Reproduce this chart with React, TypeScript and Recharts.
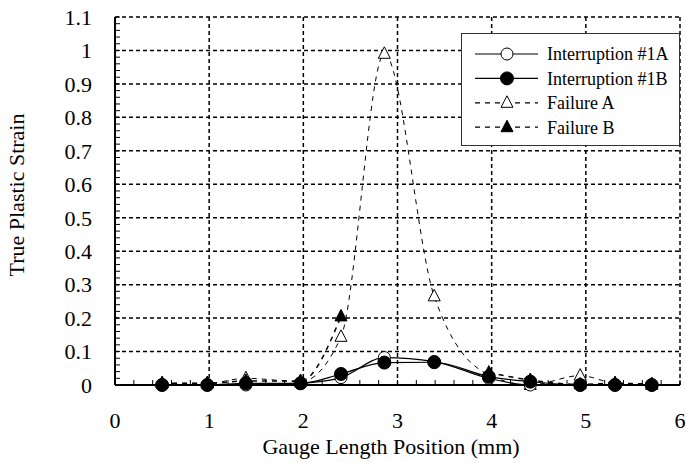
import { ComposedChart, Line, XAxis, YAxis, CartesianGrid, Legend } from "recharts";

const positions = [0.5, 0.98, 1.39, 1.97, 2.4, 2.86, 3.39, 3.97, 4.41, 4.94, 5.31, 5.7];
const interruption1A = [0, 0, 0, 0.005, 0.022, 0.082, 0.07, 0.02, 0, 0, 0, 0];
const interruption1B = [0, 0, 0.005, 0.005, 0.033, 0.067, 0.068, 0.025, 0.01, 0, 0, 0];
const failureA = [0.005, 0.005, 0.02, 0.01, 0.144, 0.99, 0.265, 0.03, 0, 0.028, 0.005, 0];
const failureB = [0.005, 0.005, 0.012, 0.012, 0.205, null, null, 0.037, 0.015, 0.002, 0.005, 0.003];

const xMajor = [0, 1, 2, 3, 4, 5, 6];
const xTickLabels = ["0", "1", "2", "3", "4", "5", "6"];
const yMajor = [0, 0.1, 0.2, 0.3, 0.4, 0.5, 0.6, 0.7, 0.8, 0.9, 1, 1.1];
const yTickLabels = ["0", "0.1", "0.2", "0.3", "0.4", "0.5", "0.6", "0.7", "0.8", "0.9", "1", "1.1"];

// minor tick marks, 0.2 on x and 0.02 on y
const xMinor = Array.from({ length: 31 }, (_, i) => Math.round(i * 2) / 10);
const yMinor = Array.from({ length: 56 }, (_, i) => Math.round(i * 2) / 100);

const rows = positions.map((x, i) => ({
  x,
  i1a: interruption1A[i],
  i1b: interruption1B[i],
  fa: failureA[i],
  fb: failureB[i],
}));

type Series = {
  key: string;
  name: string;
  marker: "circle" | "triangle";
  filled: boolean;
  dash?: string;
  width: number;
};

const series: Series[] = [
  { key: "fa", name: "Failure A", marker: "triangle", filled: false, dash: "5 5", width: 1 },
  { key: "fb", name: "Failure B", marker: "triangle", filled: true, dash: "5 5", width: 1.5 },
  { key: "i1a", name: "Interruption #1A", marker: "circle", filled: false, width: 1.2 },
  { key: "i1b", name: "Interruption #1B", marker: "circle", filled: true, width: 1.2 },
];

const legendOrder = ["i1a", "i1b", "fa", "fb"];

const FONT = "'Liberation Serif', 'Times New Roman', serif";
const serif = { fontFamily: FONT };

const Marker = ({ cx, cy, s }: { cx: number; cy: number; s: Series }) => {
  const fill = s.filled ? "#000" : "#fff";
  if (s.marker === "circle") {
    return <circle cx={cx} cy={cy} r={s.filled ? 6.5 : 6} fill={fill} stroke="#000" strokeWidth={1} />;
  }
  return (
    <polygon
      points={`${cx},${cy - 7} ${cx - 6},${cy + 4.5} ${cx + 6},${cy + 4.5}`}
      fill={fill}
      stroke="#000"
      strokeWidth={1}
    />
  );
};

const makeDot = (s: Series) => (props: any) => {
  const { cx, cy, index } = props;
  if (cx == null || cy == null || Number.isNaN(cy)) return <g key={`d-${s.key}-${index}`} />;
  return (
    <g key={`d-${s.key}-${index}`}>
      <Marker cx={cx} cy={cy} s={s} />
    </g>
  );
};

const YTick = (props: any) => {
  const { x, y, payload } = props;
  const j = yMajor.findIndex((v) => Math.abs(v - payload.value) < 1e-6);
  if (j < 0) return <g />;
  return (
    <text x={x} y={y} dy="0.355em" textAnchor="end" fontSize={22} style={serif} fill="#000">
      {yTickLabels[j]}
    </text>
  );
};

const XTick = (props: any) => {
  const { x, y, payload } = props;
  const j = xMajor.findIndex((v) => Math.abs(v - payload.value) < 1e-6);
  if (j < 0) return <g />;
  return (
    <text x={x} y={y} dy="0.71em" textAnchor="middle" fontSize={22} style={serif} fill="#000">
      {xTickLabels[j]}
    </text>
  );
};

const LegendBox = () => (
  <div
    style={{
      width: 219,
      height: 113,
      border: "1px solid #333",
      background: "#fff",
      boxSizing: "border-box",
      fontFamily: FONT,
    }}
  >
    <svg width={217} height={111}>
      {legendOrder.map((k, i) => {
        const s = series.find((d) => d.key === k)!;
        const y = 20 + i * 24.4;
        return (
          <g key={k}>
            <line x1={13} x2={76} y1={y} y2={y} stroke="#000" strokeWidth={1.2} strokeDasharray={s.dash} />
            <Marker cx={45} cy={y} s={s} />
            <text x={85} y={y} dy="0.35em" fontSize={18} style={serif} fill="#000">
              {s.name}
            </text>
          </g>
        );
      })}
    </svg>
  </div>
);

export default function App() {
  return (
    <div style={{ position: "absolute", left: 0, top: 0, fontFamily: FONT }}>
      <ComposedChart width={686} height={462} data={rows} margin={{ top: 17, right: 6, bottom: 0, left: 0 }}>
        <CartesianGrid
          xAxisId="x"
          yAxisId="y"
          verticalValues={xMajor}
          horizontalValues={yMajor}
          stroke="#000"
          strokeWidth={1.5}
          strokeDasharray="4 3"
        />
        <XAxis
          xAxisId="x"
          dataKey="x"
          type="number"
          domain={[0, 6]}
          ticks={xMinor}
          interval={0}
          height={77}
          tickSize={-5}
          tickMargin={32}
          tick={<XTick />}
          tickLine={{ stroke: "#000", strokeWidth: 1 }}
          axisLine={{ stroke: "#000", strokeWidth: 2 }}
          label={{
            content: () => (
              <text x={391} y={454} textAnchor="middle" fontSize={22} style={serif} fill="#000">
                Gauge Length Position (mm)
              </text>
            ),
          }}
        />
        <XAxis
          xAxisId="top"
          orientation="top"
          mirror
          type="number"
          domain={[0, 6]}
          ticks={xMinor}
          interval={0}
          height={0}
          tickSize={5}
          tick={false}
          tickLine={{ stroke: "#000", strokeWidth: 1 }}
          axisLine={{ stroke: "#000", strokeWidth: 2 }}
        />
        <YAxis
          yAxisId="y"
          type="number"
          domain={[0, 1.1]}
          ticks={yMinor}
          interval={0}
          width={115}
          tickSize={-5}
          tickMargin={28}
          tick={<YTick />}
          tickLine={{ stroke: "#000", strokeWidth: 1 }}
          axisLine={{ stroke: "#000", strokeWidth: 2 }}
          label={{
            content: () => (
              <text
                x={24}
                y={195}
                transform="rotate(-90, 24, 195)"
                textAnchor="middle"
                fontSize={22}
                style={serif}
                fill="#000"
              >
                True Plastic Strain
              </text>
            ),
          }}
        />
        <YAxis
          yAxisId="right"
          orientation="right"
          mirror
          type="number"
          domain={[0, 1.1]}
          ticks={yMinor}
          interval={0}
          width={0}
          tickSize={5}
          tick={false}
          tickLine={{ stroke: "#000", strokeWidth: 1 }}
          axisLine={{ stroke: "#000", strokeWidth: 2 }}
        />
        {series.map((s) => (
          <Line
            key={s.key}
            xAxisId="x"
            yAxisId="y"
            type="monotone"
            dataKey={s.key}
            name={s.name}
            stroke="#000"
            strokeWidth={s.width}
            strokeDasharray={s.dash}
            dot={makeDot(s)}
            activeDot={false}
            connectNulls={false}
            isAnimationActive={false}
          />
        ))}
        <Legend
          layout="horizontal"
          verticalAlign="middle"
          align="center"
          content={<LegendBox />}
          wrapperStyle={{ left: 461, top: 33, width: 219, height: 113 }}
        />
      </ComposedChart>
    </div>
  );
}
